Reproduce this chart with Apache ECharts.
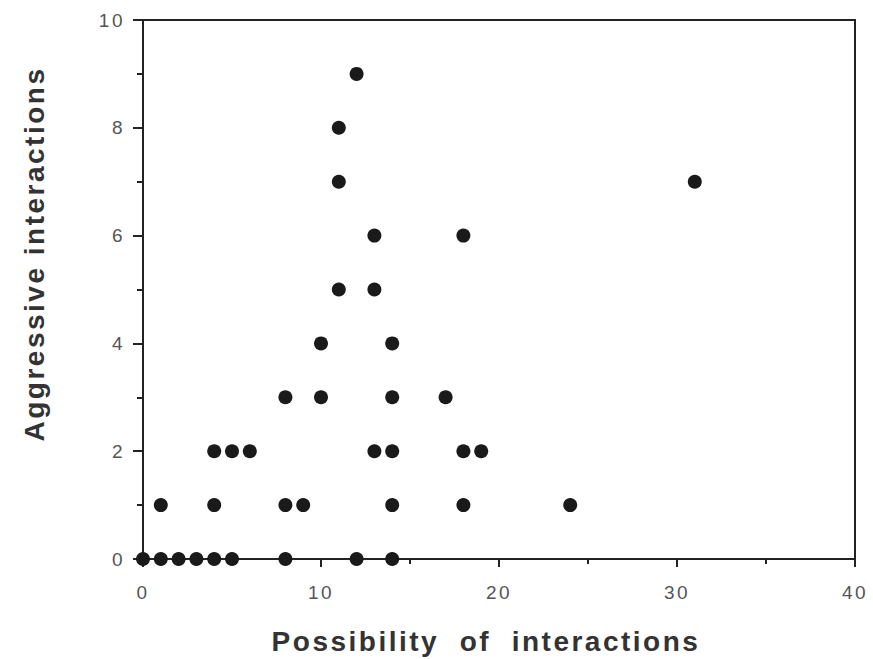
<!DOCTYPE html>
<html><head><meta charset="utf-8">
<script src="https://cdn.jsdelivr.net/npm/echarts@6/dist/echarts.min.js"></script>
<style>html,body{margin:0;padding:0;background:#fff}#c{width:873px;height:659px}
#c text{letter-spacing:2.5px}</style>
</head><body><div id="c"></div>
<script>
const possibility = [0,1,2,3,4,5,8,12,14, 1,4,8,9,14,18,24, 4,5,6,13,14,18,19, 8,10,14,17, 10,14, 11,13, 13,18, 11,31, 11, 12];
const aggressive  = [0,0,0,0,0,0,0,0,0, 1,1,1,1,1,1,1, 2,2,2,2,2,2,2, 3,3,3,3, 4,4, 5,5, 6,6, 7,7, 8, 9];
const xTicks = [0,10,20,30,40];
const yTicks = [0,2,4,6,8,10];
const xTitle = 'Possibility  of  interactions';
const yTitle = 'Aggressive interactions';

const points = possibility.map((v,i)=>[v, aggressive[i]]);
const chart = echarts.init(document.getElementById('c'), null, {renderer:'svg'});
const titleFont = 'bold 28px "Liberation Sans", Arial, sans-serif';
chart.setOption({
  animation:false,
  grid:{left:143,right:18,top:20,bottom:100,show:true,borderColor:'#222',borderWidth:2,backgroundColor:'transparent'},
  xAxis:{type:'value',min:xTicks[0],max:xTicks[xTicks.length-1],interval:10,
    axisLine:{show:true,onZero:false,lineStyle:{color:'#222',width:2}},
    axisTick:{show:true,inside:false,length:8,lineStyle:{color:'#222',width:2}},
    minorTick:{show:true,splitNumber:2,length:5,lineStyle:{color:'#222',width:2}},
    splitLine:{show:false},
    axisLabel:{margin:24,fontFamily:'Liberation Sans',fontSize:19,color:'#555'}},
  yAxis:{type:'value',min:yTicks[0],max:yTicks[yTicks.length-1],interval:2,
    axisLine:{show:true,onZero:false,lineStyle:{color:'#222',width:2}},
    axisTick:{show:true,inside:false,length:10,lineStyle:{color:'#222',width:2}},
    minorTick:{show:true,splitNumber:2,length:6,lineStyle:{color:'#222',width:2}},
    splitLine:{show:false},
    axisLabel:{margin:18,fontFamily:'Liberation Sans',fontSize:19,color:'#555'}},
  graphic:[
    {type:'text',x:486,y:641,style:{text:xTitle,font:titleFont,fill:'#333',align:'center',verticalAlign:'middle'}},
    {type:'text',x:34,y:254,rotation:Math.PI/2,style:{text:yTitle,font:titleFont,fill:'#333',align:'center',verticalAlign:'middle'}}
  ],
  series:[{type:'scatter',data:points,symbol:'circle',symbolSize:14,
    itemStyle:{color:'#1a1a1a',opacity:1},clip:false}]
});
</script></body></html>
